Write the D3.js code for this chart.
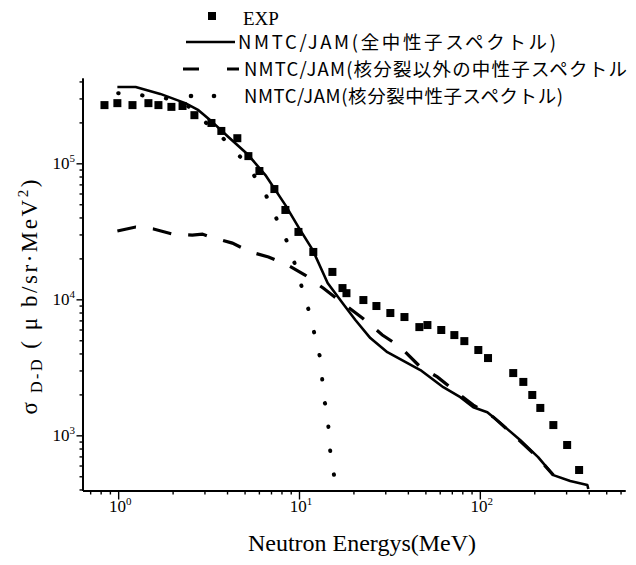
<!DOCTYPE html>
<html>
<head>
<meta charset="utf-8">
<script src="https://cdn.jsdelivr.net/npm/d3@7"></script>
<style>
    body { margin: 0; background: #fff; }
</style>
</head>
<body>
<div id="chart"></div>
<script>
// experimental points (MeV, ub/sr/MeV^2)
const expEnergy = [0.84, 0.99, 1.20, 1.47, 1.67, 1.97, 2.27, 2.64, 3.28, 3.72, 4.56, 5.25, 6.04, 7.31, 8.41, 9.93,
    12.0, 15.3, 17.4, 18.3, 22.7, 26.8, 32.0, 38.3, 46.3, 51.3, 61.2, 72.3, 82.1, 98.1, 111, 153, 174, 195, 216, 255, 304, 354];
const expSigma = [2.68e5, 2.77e5, 2.68e5, 2.77e5, 2.68e5, 2.60e5, 2.64e5, 2.26e5, 1.98e5, 1.73e5, 1.53e5, 1.13e5, 8.78e4, 6.47e4, 4.54e4, 3.13e4,
    2.23e4, 1.59e4, 1.21e4, 1.11e4, 9.88e3, 8.93e3, 7.93e3, 7.41e3, 6.25e3, 6.47e3, 5.95e3, 5.46e3, 4.93e3, 4.24e3, 3.70e3, 2.87e3, 2.47e3, 1.98e3, 1.59e3, 1.19e3, 849, 556];

// NMTC/JAM total
const totalEnergy = [0.99, 1.25, 1.71, 2.35, 2.78, 3.32, 4.07, 5.25, 6.52, 8.41, 9.93, 11.9, 14.4, 17.4, 20.5, 24.8, 30.8,
    46.9, 62.8, 78.0, 92.0, 110, 130, 167, 210, 255, 316, 393, 398];
const totalSigma = [3.64e5, 3.64e5, 3.24e5, 2.77e5, 2.46e5, 2.01e5, 1.56e5, 1.15e5, 8.2e4, 4.93e4, 3.40e4, 2.31e4, 1.32e4, 9.40e3, 7.05e3, 5.19e3, 4.09e3,
    3.02e3, 2.26e3, 1.91e3, 1.61e3, 1.48e3, 1.23e3, 923, 692, 510, 461, 431, 403];

// NMTC/JAM non-fission
const nonFissionEnergy = [0.99, 1.25, 1.57, 2.0, 2.57, 2.92, 3.24, 4.28, 5.39, 6.78, 8.62, 10.8, 13.6, 17.4, 22.4, 28.9, 36.3,
    46.9, 58.2, 75.0, 92.0, 119, 147, 208, 255];
const nonFissionSigma = [3.18e4, 3.40e4, 3.29e4, 3.02e4, 2.97e4, 3.02e4, 2.87e4, 2.59e4, 2.23e4, 2.05e4, 1.79e4, 1.51e4, 1.21e4, 9.40e3, 7.29e3, 5.47e3, 4.47e3,
    3.18e3, 2.69e3, 2.05e3, 1.67e3, 1.36e3, 1.06e3, 692, 510];

// NMTC/JAM fission
const fissionEnergy = [1.0, 1.33, 2.21, 3.24, 4.28, 5.52, 6.68, 7.69, 8.73, 9.79, 10.7, 11.7, 12.5, 13.3, 13.6, 14.4, 14.7, 15.3, 16.1];
const fissionSigma = [3.28e5, 3.17e5, 2.82e5, 1.85e5, 1.30e5, 8.5e4, 5.56e4, 3.64e4, 2.51e4, 1.59e4, 1.06e4, 7.05e3, 4.69e3, 3.13e3, 2.05e3, 1.39e3, 908, 605, 410];

const xMajorTicks = [1, 10, 100];
const yMajorTicks = [1e3, 1e4, 1e5];
const xTickExp = ['0', '1', '2'];
const yTickExp = ['3', '4', '5'];
const legendLabels = ['EXP', 'NMTC/JAM(全中性子スペクトル)', 'NMTC/JAM(核分裂以外の中性子スペクトル', 'NMTC/JAM(核分裂中性子スペクトル)'];

const width = 636, height = 565;
const serif = '"Liberation Serif", "DejaVu Serif", serif';
const jp = '"Noto Sans CJK JP", "Noto Sans", sans-serif';

const x = d3.scaleLog().domain([0.635, 635]).range([82.5, 625]);
const y = d3.scaleLog().domain([393, 4.24e5]).range([490.5, 78]);

const svg = d3.create('svg')
    .attr('width', width).attr('height', height)
    .attr('viewBox', [0, 0, width, height])
    .style('background', '#fff');

// axes: minor ticks first, then major ticks
const xMinor = x.ticks().filter(v => !xMajorTicks.includes(v));
const yMinor = y.ticks().filter(v => !yMajorTicks.includes(v));

const gx = svg.append('g').attr('transform', `translate(0,${y.range()[0]})`);
gx.append('g').call(d3.axisBottom(x).tickValues(xMinor).tickSize(4).tickSizeOuter(0).tickFormat(''));
gx.append('g').call(d3.axisBottom(x).tickValues(xMajorTicks).tickSize(9).tickSizeOuter(0).tickFormat(''));

const gy = svg.append('g').attr('transform', `translate(${x.range()[0]},0)`);
gy.append('g').call(d3.axisLeft(y).tickValues(yMinor).tickSize(3).tickSizeOuter(0).tickFormat(''));
gy.append('g').call(d3.axisLeft(y).tickValues(yMajorTicks).tickSize(6).tickSizeOuter(0).tickFormat(''));

svg.selectAll('.domain').attr('stroke', '#000').attr('stroke-width', 1.8);
svg.selectAll('.tick line').attr('stroke', '#000').attr('stroke-width', 1.4);

// tick labels 10^n
xMajorTicks.forEach((v, i) => {
    const t = svg.append('text').attr('x', x(v) + 2).attr('y', 512)
        .attr('text-anchor', 'middle').attr('font-family', serif).attr('font-size', 17);
    t.append('tspan').text('10');
    t.append('tspan').attr('font-size', 11).attr('dy', -7).text(xTickExp[i]);
});
yMajorTicks.forEach((v, i) => {
    const t = svg.append('text').attr('x', 75).attr('y', y(v) + 6)
        .attr('text-anchor', 'end').attr('font-family', serif).attr('font-size', 17);
    t.append('tspan').text('10');
    t.append('tspan').attr('font-size', 11).attr('dy', -7).text(yTickExp[i]);
});

// axis titles
svg.append('text').attr('x', 362).attr('y', 551)
    .attr('text-anchor', 'middle').attr('font-family', serif).attr('font-size', 24)
    .text('Neutron Energys(MeV)');

const yt = svg.append('text').attr('transform', 'translate(37,297) rotate(-90)')
    .attr('text-anchor', 'middle').attr('font-family', serif).attr('font-size', 23)
    .attr('textLength', 235).attr('lengthAdjust', 'spacing');
yt.append('tspan').text('σ');
yt.append('tspan').attr('font-size', 16).attr('dy', 5).text(' D-D');
yt.append('tspan').attr('dy', -5).text(' ( μ b/sr·MeV');
yt.append('tspan').attr('font-size', 15).attr('dy', -9).text('2');
yt.append('tspan').attr('dy', 9).text(')');

// series
const toPts = (es, ss) => es.map((e, i) => [e, ss[i]]);
const line = d3.line().x(d => x(d[0])).y(d => y(d[1]));

svg.append('path').datum(toPts(totalEnergy, totalSigma))
    .attr('fill', 'none').attr('stroke', '#000').attr('stroke-width', 2.6)
    .attr('stroke-linejoin', 'round').attr('d', line);

svg.append('path').datum(toPts(nonFissionEnergy, nonFissionSigma))
    .attr('fill', 'none').attr('stroke', '#000').attr('stroke-width', 3.2)
    .attr('stroke-dasharray', '19,17').attr('d', line);

svg.append('path').datum(toPts(fissionEnergy, fissionSigma))
    .attr('fill', 'none').attr('stroke', '#000').attr('stroke-width', 4)
    .attr('stroke-linecap', 'round').attr('stroke-dasharray', '0.5,23.5')
    .attr('d', line.curve(d3.curveMonotoneX));

const sq = 8;
svg.append('g').selectAll('rect')
    .data(toPts(expEnergy, expSigma))
    .join('rect')
    .attr('x', d => x(d[0]) - sq / 2).attr('y', d => y(d[1]) - sq / 2)
    .attr('width', sq).attr('height', sq).attr('fill', '#000');

// legend
const lg = svg.append('g');
lg.append('rect').attr('x', 208).attr('y', 12).attr('width', 8).attr('height', 8).attr('fill', '#000');
lg.append('text').attr('x', 243).attr('y', 25).attr('font-family', serif).attr('font-size', 19).text(legendLabels[0]);

lg.append('line').attr('x1', 186).attr('x2', 235).attr('y1', 42).attr('y2', 42)
    .attr('stroke', '#000').attr('stroke-width', 2.6);
lg.append('line').attr('x1', 183).attr('x2', 239).attr('y1', 69).attr('y2', 69)
    .attr('stroke', '#000').attr('stroke-width', 3.2).attr('stroke-dasharray', '16,28');
lg.selectAll('circle').data([191, 214]).join('circle')
    .attr('cx', d => d).attr('cy', 96).attr('r', 2.3).attr('fill', '#000');

const legendX = [null, 238, 244, 244];
const legendY = [null, 49, 76, 103];
const legendLen = [null, 318, 383, 319];
for (let i = 1; i < 4; ++i) {
    lg.append('text').attr('x', legendX[i]).attr('y', legendY[i])
        .attr('font-family', jp).attr('font-size', 18.5)
        .attr('textLength', legendLen[i]).attr('lengthAdjust', 'spacing')
        .text(legendLabels[i]);
}

document.querySelector('#chart').appendChild(svg.node());
</script>
</body>
</html>
